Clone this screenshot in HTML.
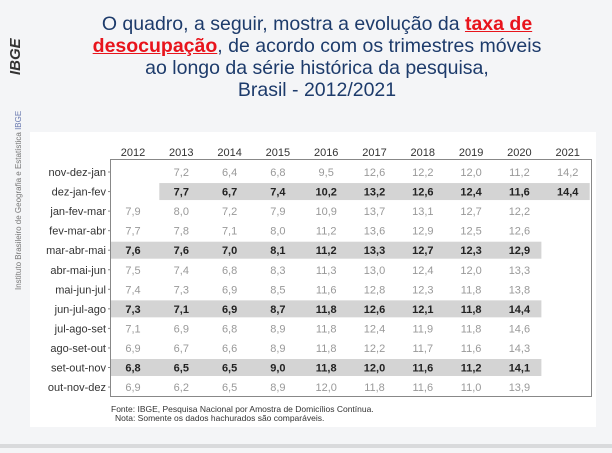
<!DOCTYPE html>
<html><head><meta charset="utf-8"><style>
body{margin:0;width:612px;height:453px;background:#f4f5f7;font-family:"Liberation Sans",sans-serif;position:relative;overflow:hidden}
#title{position:absolute;left:50px;width:534px;top:13px;text-align:center;color:#1d3b6b;font-size:19.5px;line-height:22px}
#title b{color:#e8141c;text-decoration:underline;text-decoration-color:#e8141c}
#panel{position:absolute;left:30px;top:132px;width:566px;height:295px;background:#fff}
#bottom{position:absolute;left:0;top:444px;width:612px;height:4px;background:#d9dadc}
#logo{position:absolute;left:7px;top:48px;transform:rotate(-90deg);transform-origin:left top;font-weight:bold;font-style:italic;font-size:15px;color:#333}
#side{position:absolute;left:14px;top:290px;transform:rotate(-90deg);transform-origin:left top;font-size:8px;color:#777;white-space:nowrap}
</style></head><body>
<div id="title">O quadro, a seguir, mostra a evolução da <b>taxa de<br>desocupação</b>, de acordo com os trimestres móveis<br>ao longo da série histórica da pesquisa,<br>Brasil - 2012/2021</div>
<div id="logo" style="top:75px">IBGE</div>
<div id="side">Instituto Brasileiro de Geografia e Estatística <span style="color:#6a7ab0">IBGE</span></div>
<div id="panel"></div>
<div id="bottom"></div>
<svg id="chart" width="612" height="453" style="position:absolute;left:0;top:0"></svg>
<script>
const years=["2012","2013","2014","2015","2016","2017","2018","2019","2020","2021"];
const rows=["nov-dez-jan","dez-jan-fev","jan-fev-mar","fev-mar-abr","mar-abr-mai","abr-mai-jun","mai-jun-jul","jun-jul-ago","jul-ago-set","ago-set-out","set-out-nov","out-nov-dez"];
const highlighted=[1,4,7,10];
const values=[
[null,7.2,6.4,6.8,9.5,12.6,12.2,12.0,11.2,14.2],
[null,7.7,6.7,7.4,10.2,13.2,12.6,12.4,11.6,14.4],
[7.9,8.0,7.2,7.9,10.9,13.7,13.1,12.7,12.2],
[7.7,7.8,7.1,8.0,11.2,13.6,12.9,12.5,12.6],
[7.6,7.6,7.0,8.1,11.2,13.3,12.7,12.3,12.9],
[7.5,7.4,6.8,8.3,11.3,13.0,12.4,12.0,13.3],
[7.4,7.3,6.9,8.5,11.6,12.8,12.3,11.8,13.8],
[7.3,7.1,6.9,8.7,11.8,12.6,12.1,11.8,14.4],
[7.1,6.9,6.8,8.9,11.8,12.4,11.9,11.8,14.6],
[6.9,6.7,6.6,8.9,11.8,12.2,11.7,11.6,14.3],
[6.8,6.5,6.5,9.0,11.8,12.0,11.6,11.2,14.1],
[6.9,6.2,6.5,8.9,12.0,11.8,11.6,11.0,13.9]];
const NS="http://www.w3.org/2000/svg",svg=document.getElementById('chart');
const colX=i=>133+i*48.3, rowY=j=>172+j*19.55;
function mk(t,a,txt){const e=document.createElementNS(NS,t);for(const k in a)e.setAttribute(k,a[k]);if(txt!=null)e.textContent=txt;svg.appendChild(e);return e;}
rows.forEach((r,j)=>{
  if(highlighted.includes(j)){
    let first=values[j].findIndex(v=>v!=null), last=values[j].length-1;
    const b=mk('rect',{x:colX(first)-22,y:rowY(j)-8.5,width:colX(last)-colX(first)+44,height:17,fill:'#d4d4d4'});
    
    
  }
});
const fr=mk('rect',{x:110.5,y:159.5,width:481,height:237,fill:'none',stroke:'#888','stroke-width':1});


years.forEach((y,i)=>{
  const t=mk('text',{x:colX(i),y:156,'text-anchor':'middle','font-size':11,fill:'#333'},y);
  
  
});
rows.forEach((r,j)=>{
  const t=mk('text',{x:106,y:rowY(j)+4,'text-anchor':'end','font-size':11,fill:'#333'},r);
  
  
  const tk=mk('line',{x1:108,x2:111,y1:rowY(j),y2:rowY(j),stroke:'#888'});
  
  
  const hl=highlighted.includes(j);
  values[j].forEach((v,i)=>{
    if(v==null)return;
    const c=mk('text',{x:colX(i),y:rowY(j)+4,'text-anchor':'middle','font-size':11,fill:hl?'#222':'#999','font-weight':hl?'bold':'normal'},v.toFixed(1).replace('.',','));
    
    
  });
});
const f1=mk('text',{x:111,y:412,'font-size':8.5,fill:'#333'},'Fonte: IBGE, Pesquisa Nacional por Amostra de Domicílios Contínua.');


const f2=mk('text',{x:115,y:421,'font-size':8.5,fill:'#333'},'Nota: Somente os dados hachurados são comparáveis.');


</script>
</body></html>
